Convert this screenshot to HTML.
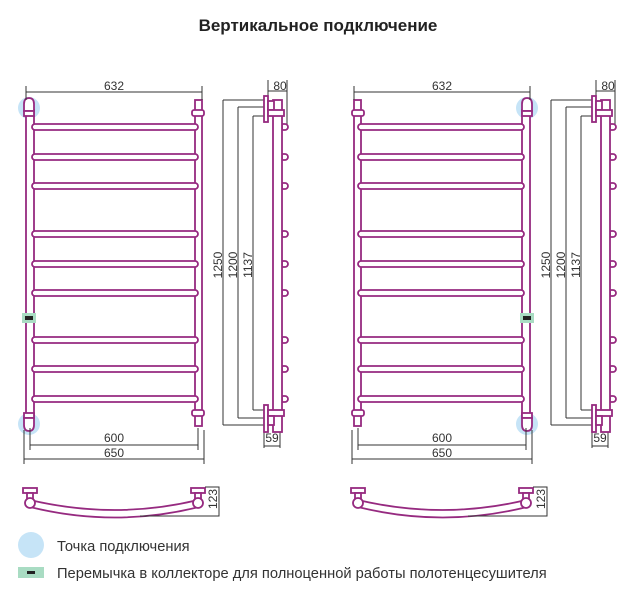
<!DOCTYPE html>
<html><head><meta charset="utf-8"><style>
html,body{margin:0;padding:0;background:#fff;}
svg{display:block;}
text{font-family:"Liberation Sans",sans-serif;fill:#333;}
</style></head><body>
<svg width="636" height="597" viewBox="0 0 636 597" xmlns="http://www.w3.org/2000/svg">
<defs>
<g id="front">
  <circle cx="29" cy="108" r="11" fill="#c6e4f7"/>
  <circle cx="29" cy="424" r="11" fill="#c6e4f7"/>
  <g fill="#fff" stroke="#962a80" stroke-width="1.8">
    <rect x="26" y="110" width="8" height="306"/>
    <rect x="195" y="100" width="7" height="326"/>
    <rect x="32" y="124" width="166" height="6" rx="3"/>
    <rect x="32" y="154" width="166" height="6" rx="3"/>
    <rect x="32" y="183" width="166" height="6" rx="3"/>
    <rect x="32" y="231" width="166" height="6" rx="3"/>
    <rect x="32" y="261" width="166" height="6" rx="3"/>
    <rect x="32" y="290" width="166" height="6" rx="3"/>
    <rect x="32" y="337" width="166" height="6" rx="3"/>
    <rect x="32" y="366" width="166" height="6" rx="3"/>
    <rect x="32" y="396" width="166" height="6" rx="3"/>
    <path d="M24 104 q0 -6 5 -6 q5 0 5 6 v7 h-10z"/>
    <rect x="24" y="111" width="10" height="5"/>
    <rect x="24" y="413" width="10" height="5"/>
    <path d="M24 418 h10 v7 q0 6 -5 6 q-5 0 -5 -6z"/>
    <rect x="192" y="110" width="12" height="6" rx="2"/>
    <rect x="192" y="410" width="12" height="6" rx="2"/>
  </g>
  <rect x="22" y="313" width="14" height="10" fill="#a9dcc3"/>
  <rect x="25" y="316" width="8" height="4" fill="#222"/>
  <g stroke="#333" stroke-width="1" fill="none">
    <path d="M26 86 V100 M202 86 V100 M26 92 H202"/>
    <path d="M30 428 V450 M198 428 V450 M30 445 H198"/>
    <path d="M24 430 V464 M204 430 V464 M24 459 H204"/>
  </g>
</g>
<g id="bottom">
  <g fill="#fff" stroke="#962a80" stroke-width="1.8">
    <path d="M30 500 Q115 520 198 500 L199 507 Q115 528 30 507 Z"/>
    <rect x="23" y="488" width="14" height="5"/>
    <rect x="27" y="493" width="6" height="6"/>
    <circle cx="30" cy="503" r="5"/>
    <rect x="191" y="488" width="14" height="5"/>
    <rect x="195" y="493" width="6" height="6"/>
    <circle cx="198" cy="503" r="5"/>
  </g>
  <path d="M205 487 H219 V516 H140" stroke="#333" stroke-width="1" fill="none"/>
</g>
<g id="side">
  <g stroke="#333" stroke-width="1" fill="none">
    <path d="M223 100 V425 M223 100 H264 M223 425 H264"/>
    <path d="M238 107 V418 M238 107 H264 M238 418 H264"/>
    <path d="M253 116 V410 M253 116 H264 M253 410 H264"/>
    <path d="M268 80 V98 M287 80 V125 M268 91 H287"/>
    <path d="M264 430 V448 M280 432 V448 M264 446 H280"/>
  </g>
  <g fill="#fff" stroke="#962a80" stroke-width="1.8">
    <path d="M282 124 h3 a3 3 0 0 1 0 6 h-3z M282 154 h3 a3 3 0 0 1 0 6 h-3z M282 183 h3 a3 3 0 0 1 0 6 h-3z M282 231 h3 a3 3 0 0 1 0 6 h-3z M282 261 h3 a3 3 0 0 1 0 6 h-3z M282 290 h3 a3 3 0 0 1 0 6 h-3z M282 337 h3 a3 3 0 0 1 0 6 h-3z M282 366 h3 a3 3 0 0 1 0 6 h-3z M282 396 h3 a3 3 0 0 1 0 6 h-3z"/>
    <rect x="273" y="100" width="9" height="332"/>
    <rect x="264" y="96" width="4" height="26"/>
    <rect x="264" y="405" width="4" height="27"/>
    <rect x="268" y="101" width="6" height="9"/>
    <rect x="268" y="110" width="16" height="6"/>
    <rect x="268" y="410" width="16" height="6"/>
    <rect x="268" y="416" width="6" height="9"/>
  </g>
</g>
</defs>
<text x="318" y="31" font-size="17" font-weight="bold" text-anchor="middle" style="fill:#222">Вертикальное подключение</text>

<use href="#front"/>
<use href="#side"/>
<use href="#bottom"/>
<g transform="translate(556,0) scale(-1,1)"><use href="#front"/></g>
<use href="#side" transform="translate(328,0)"/>
<use href="#bottom" transform="translate(328,0)"/>

<g font-size="12">
<text x="114" y="90" text-anchor="middle">632</text>
<text x="114" y="442" text-anchor="middle">600</text>
<text x="114" y="457" text-anchor="middle">650</text>
<text x="280" y="90" text-anchor="middle">80</text>
<text x="272" y="442" text-anchor="middle">59</text>
<text transform="translate(222,265) rotate(-90)" text-anchor="middle">1250</text>
<text transform="translate(237,265) rotate(-90)" text-anchor="middle">1200</text>
<text transform="translate(252,265) rotate(-90)" text-anchor="middle">1137</text>
<text transform="translate(217,499) rotate(-90)" text-anchor="middle">123</text>

<text x="442" y="90" text-anchor="middle">632</text>
<text x="442" y="442" text-anchor="middle">600</text>
<text x="442" y="457" text-anchor="middle">650</text>
<text x="608" y="90" text-anchor="middle">80</text>
<text x="600" y="442" text-anchor="middle">59</text>
<text transform="translate(550,265) rotate(-90)" text-anchor="middle">1250</text>
<text transform="translate(565,265) rotate(-90)" text-anchor="middle">1200</text>
<text transform="translate(580,265) rotate(-90)" text-anchor="middle">1137</text>
<text transform="translate(545,499) rotate(-90)" text-anchor="middle">123</text>
</g>

<circle cx="31" cy="545" r="13" fill="#c6e4f7"/>
<text x="57" y="551" font-size="14.7">Точка подключения</text>
<rect x="18" y="567" width="26" height="11" fill="#a9dcc3"/>
<rect x="27" y="571" width="8" height="3" fill="#222"/>
<text x="57" y="578" font-size="14.7">Перемычка в коллекторе для полноценной работы полотенцесушителя</text>
</svg>
</body></html>
